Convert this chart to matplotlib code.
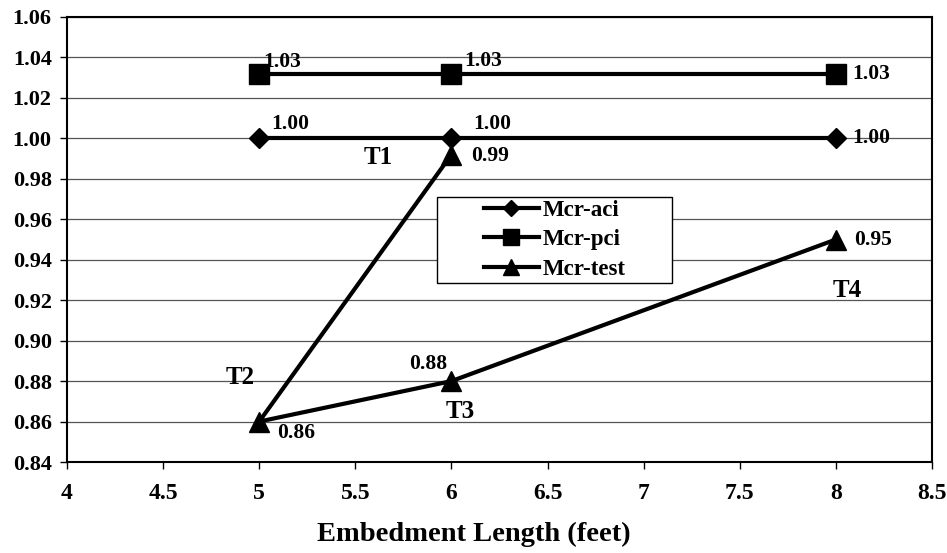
import matplotlib.pyplot as plt
from matplotlib.patches import Rectangle

# data
x_aci = [5, 6, 8]
y_aci = [1.00, 1.00, 1.00]
x_pci = [5, 6, 8]
y_pci = [1.032, 1.032, 1.032]
x_test = [6, 5, 6, 8]
y_test = [0.992, 0.86, 0.88, 0.95]
test_names = ['T1', 'T2', 'T3', 'T4']

plt.rcParams['font.family'] = 'Liberation Serif'
plt.rcParams['font.weight'] = 'bold'

fig = plt.figure(figsize=(9.47, 5.53), dpi=100)
ax = fig.add_axes([67/947, 1 - 462/553, 865/947, 445/553])

ax.plot(x_aci, y_aci, 'k-', marker='D', ms=10, lw=3, label='Mcr-aci', zorder=3)
ax.plot(x_pci, y_pci, 'k-', marker='s', ms=14, lw=3, label='Mcr-pci', zorder=3)
ax.plot(x_test, y_test, 'k-', marker='^', ms=14, lw=3, label='Mcr-test', zorder=3)

fs = 15.5
# value labels, offsets in points
pci_off = [(3, 1), (9, 2), (12, 0)]
pci_va = ['bottom', 'bottom', 'center']
for i in range(len(x_pci)):
    ax.annotate(f'{y_pci[i]:.2f}', (x_pci[i], y_pci[i]), xytext=pci_off[i],
                textcoords='offset points', fontsize=fs, fontweight='bold',
                ha='left', va=pci_va[i])
aci_off = [(9, 3), (16, 3), (12, 0)]
aci_va = ['bottom', 'bottom', 'center']
for i in range(len(x_aci)):
    ax.annotate(f'{y_aci[i]:.2f}', (x_aci[i], y_aci[i]), xytext=aci_off[i],
                textcoords='offset points', fontsize=fs, fontweight='bold',
                ha='left', va=aci_va[i])
test_off = [(14, -1), (13, -8), (-3, 5), (13, 0)]
test_ha = ['left', 'left', 'right', 'left']
test_va = ['center', 'center', 'bottom', 'center']
for i in range(len(x_test)):
    ax.annotate(f'{y_test[i]:.2f}', (x_test[i], y_test[i]), xytext=test_off[i],
                textcoords='offset points', fontsize=fs, fontweight='bold',
                ha=test_ha[i], va=test_va[i])

# test names
name_pos = [(5.62, 0.9905), (4.90, 0.882), (6.045, 0.865), (8.058, 0.925)]
for name, (tx, ty) in zip(test_names, name_pos):
    ax.text(tx, ty, name, fontsize=18, fontweight='bold', ha='center', va='center')

ax.set_xlim(4, 8.5)
ax.set_ylim(0.84, 1.06)
ax.set_xticks([4, 4.5, 5, 5.5, 6, 6.5, 7, 7.5, 8, 8.5])
ax.set_xticklabels(['4', '4.5', '5', '5.5', '6', '6.5', '7', '7.5', '8', '8.5'])
ax.set_yticks([0.84 + 0.02 * i for i in range(12)])
ax.set_yticklabels([f'{0.84 + 0.02 * i:.2f}' for i in range(12)])
ax.tick_params(axis='y', labelsize=16, direction='out', length=5, width=1, pad=6)
ax.tick_params(axis='x', labelsize=17, direction='out', length=5, width=1, pad=10)
for lab in ax.get_xticklabels() + ax.get_yticklabels():
    lab.set_fontweight('bold')
ax.grid(axis='y', color='#555555', lw=0.9)
ax.set_axisbelow(True)
for sp in ax.spines.values():
    sp.set_linewidth(1.5)
    sp.set_color('black')

ax.set_xlabel('Embedment Length (feet)', fontsize=20.5, fontweight='bold')
ax.xaxis.set_label_coords(0.4705, -0.135)

# legend box drawn by hand (wide Excel-style frame)
ax.add_patch(Rectangle((0.428, 0.402), 0.271, 0.1935, transform=ax.transAxes,
                       facecolor='white', edgecolor='black', lw=1.0, zorder=4))
leg = ax.legend(loc='center', bbox_to_anchor=(0.5636, 0.499), fontsize=16.5,
                frameon=False, handlelength=2.4, borderpad=0.2, labelspacing=0.35,
                handletextpad=0.15, markerscale=0.85)
leg.set_zorder(5)
for t in leg.get_texts():
    t.set_fontweight('bold')

fig.savefig('out.png', dpi=100)
